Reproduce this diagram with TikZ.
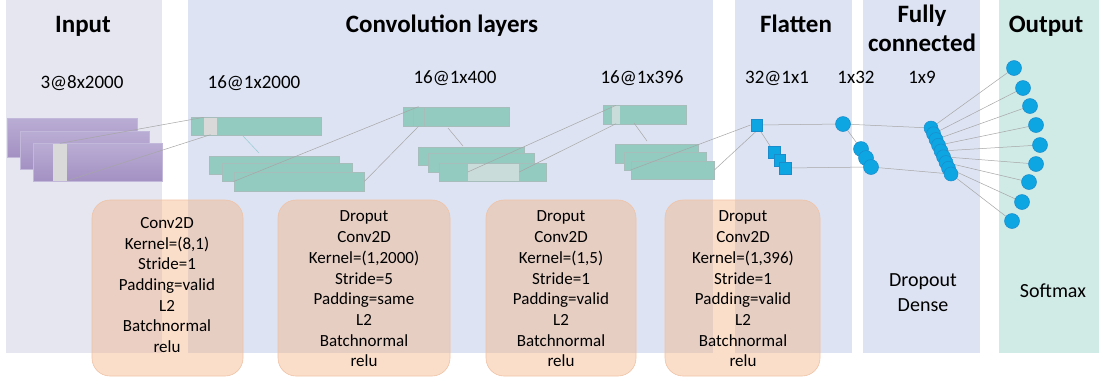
\documentclass[tikz,border=0pt]{standalone}
\usepackage{fontspec}
\setmainfont{Carlito}
\definecolor{inpanel}{HTML}{E5E6F0}
\definecolor{bluepanel}{HTML}{DDE3F2}
\definecolor{outpanel}{HTML}{D0EAE6}
\definecolor{purpletop}{HTML}{BAADD4}
\definecolor{purplebot}{HTML}{A391C3}
\definecolor{purpleedge}{HTML}{C2B8D9}
\definecolor{tealfill}{HTML}{93CBC0}
\definecolor{tealedge}{HTML}{A6BDBC}
\definecolor{patchgrey}{HTML}{D9D9D9}
\definecolor{patchlight}{HTML}{C9DCD9}
\definecolor{linegrey}{HTML}{A6A6A6}
\definecolor{lineteal}{HTML}{9CCFD6}
\definecolor{neuronfill}{HTML}{0EA5E3}
\definecolor{neuronedge}{HTML}{1A8CCB}
\definecolor{boxfill}{HTML}{F4B183}
\definecolor{boxedge}{HTML}{EFC3A6}
\pgfdeclarelayer{bg}
\pgfdeclarelayer{fg}
\pgfdeclarelayer{top}
\pgfsetlayers{bg,main,fg,top}
\begin{document}
\begin{tikzpicture}[x=1pt,y=-1pt,
  prect/.style={rectangle, inner sep=0, top color=purpletop, bottom color=purplebot, draw=purpleedge, line width=0.6pt},
  trect/.style={rectangle, inner sep=0, fill=tealfill, draw=tealedge, line width=0.7pt},
  grect/.style={rectangle, inner sep=0, fill=patchgrey, draw=none},
  lrect/.style={rectangle, inner sep=0, fill=patchlight, draw=tealedge, line width=0.5pt},
  conn/.style={draw=linegrey, line width=0.5pt},
  tconn/.style={draw=lineteal, line width=0.6pt},
  neuron/.style={circle, inner sep=0, minimum size=15pt, fill=neuronfill, draw=neuronedge, line width=0.5pt},
  sqneuron/.style={rectangle, inner sep=0, minimum size=11.5pt, fill=neuronfill, draw=neuronedge, line width=0.5pt},
  title/.style={font=\fontsize{25}{30}\selectfont\bfseries, anchor=base, inner sep=0},
  dimlabel/.style={font=\fontsize{19}{22}\selectfont, anchor=base, inner sep=0},
  opbox/.style={rectangle, rounded corners=18pt, fill=boxfill, fill opacity=0.42, draw=boxedge, line width=0.6pt, inner sep=0},
  optext/.style={font=\fontsize{17}{20.7}\selectfont, align=center, inner sep=0},
  plaintext/.style={font=\fontsize{20}{25}\selectfont, align=center, inner sep=0}]
\useasboundingbox (0,0) rectangle (1099,384);

% ---------- background panels ----------
\begin{pgfonlayer}{bg}
\fill[white] (0,0) rectangle (1099,384);
\fill[inpanel] (6,0) rectangle (162,353);
\fill[bluepanel] (188,0) rectangle (713,353);
\fill[bluepanel] (735,0) rectangle (852,353);
\fill[bluepanel] (863,0) rectangle (980,353);
\fill[outpanel] (999,0) rectangle (1099,353);
\end{pgfonlayer}

% ---------- titles and dimension labels ----------
\node[title] (tin) at (83,32) {Input};
\node[title] (tconv) at (442,32) {Convolution layers};
\node[title] (tflat) at (796,32) {Flatten};
\node[title] (tfc1) at (922,22) {Fully};
\node[title] (tfc2) at (922,51) {connected};
\node[title] (tout) at (1046,32) {Output};

\node[dimlabel] (d1) at (82,88) {3@8x2000};
\node[dimlabel] (d2) at (254,88) {16@1x2000};
\node[dimlabel] (d3) at (455,83) {16@1x400};
\node[dimlabel] (d4) at (642,83) {16@1x396};
\node[dimlabel] (d5) at (777,83) {32@1x1};
\node[dimlabel] (d6) at (856,83) {1x32};
\node[dimlabel] (d7) at (922,83) {1x9};

% ---------- input maps ----------
\node[prect, minimum width=130pt, minimum height=39pt] (in1) at (72,137.5) {};
\node[prect, minimum width=129pt, minimum height=38pt] (in2) at (84.5,150) {};
\node[prect, minimum width=129pt, minimum height=38pt] (in3) at (97.5,162) {};
\node[grect, minimum width=14pt, minimum height=37pt] (in3s) at (60,162) {};

% ---------- conv block 1 ----------
\node[trect, minimum width=130pt, minimum height=18pt] (c1t) at (256,126) {};
\node[grect, minimum width=13pt, minimum height=17pt] (c1p) at (210.5,126) {};
\node[trect, minimum width=130pt, minimum height=18pt] (c1a) at (274,165) {};
\node[trect, minimum width=130pt, minimum height=18pt] (c1b) at (287,172) {};
\node[trect, minimum width=130pt, minimum height=19pt] (c1c) at (299,181.5) {};

% ---------- conv block 2 ----------
\node[trect, minimum width=106pt, minimum height=19pt] (c2t) at (456,116.5) {};
\node[trect, minimum width=11pt, minimum height=19pt] (c2band) at (418.5,116.5) {};
\node[trect, minimum width=106pt, minimum height=18pt] (c2a) at (471,156) {};
\node[trect, minimum width=106pt, minimum height=19pt] (c2b) at (481,162.5) {};
\node[trect, minimum width=107pt, minimum height=18pt] (c2c) at (492.5,172) {};
\node[grect, fill=patchlight, minimum width=51pt, minimum height=17pt] (c2p) at (493.5,172) {};

% ---------- conv block 3 ----------
\node[trect, minimum width=83pt, minimum height=19pt] (c3t) at (644.5,114.5) {};
\node[grect, fill=patchlight, minimum width=8pt, minimum height=18pt] (c3p) at (616,114.5) {};
\node[trect, minimum width=83pt, minimum height=19pt] (c3a) at (656.5,153.5) {};
\node[trect, minimum width=82pt, minimum height=18pt] (c3b) at (665,161) {};
\node[trect, minimum width=83pt, minimum height=18pt] (c3c) at (672.5,170) {};

% ---------- neurons (foreground) ----------
\begin{pgfonlayer}{fg}
\node[sqneuron] (sq1) at (756.5,125) {};
\node[sqneuron] (sq2) at (774,152) {};
\node[sqneuron] (sq3) at (779.5,160) {};
\node[sqneuron] (sq4) at (785,168) {};
\node[neuron] (fc1) at (843,124) {};
\node[neuron] (fc2) at (861,149) {};
\node[neuron] (fc3) at (866,158) {};
\node[neuron] (fc4) at (871,167) {};
\foreach \i in {1,...,9} {
  \node[neuron, minimum size=14pt] (s\i) at ({931+(\i-1)*2.5},{128+(\i-1)*5.75}) {};
}
\node[neuron] (o1) at (1014,68) {};
\node[neuron] (o2) at (1023,88) {};
\node[neuron] (o3) at (1030,106) {};
\node[neuron] (o4) at (1036,125) {};
\node[neuron] (o5) at (1040,145) {};
\node[neuron] (o6) at (1036,164) {};
\node[neuron] (o7) at (1029,182) {};
\node[neuron] (o8) at (1022,202) {};
\node[neuron] (o9) at (1012,221) {};
\end{pgfonlayer}

% ---------- connectors ----------
\coordinate (k1a) at (243,136);
\coordinate (k1b) at (259,153);
\coordinate (k2a) at (448,128);
\coordinate (k2b) at (463,146);
\coordinate (k3a) at (634,123);
\coordinate (k3b) at (647,141);
\draw[conn] (in3s.north) -- (c1p.north west);
\draw[conn] (in3s.south east) -- (c1p.south);
\draw[tconn] (k1a) -- (k1b);
\draw[conn] (c1c.west) -- (c2band.north);
\draw[conn] (c1c.east) -- (c2band.south);
\draw[conn] (k2a) -- (k2b);
\draw[conn] (c2p.west) -- (c3p.north);
\draw[conn] (c2p.east) -- (c3p.south);
\draw[conn] (k3a) -- (k3b);
\draw[conn] (c3c.west) -- (sq1.west);
\draw[conn] (c3c.east) -- (sq1.south);
\draw[conn] (sq1.center) -- (sq2.center);
\draw[conn] (sq1.center) -- (fc1.center);
\draw[conn] (sq4.center) -- (fc4.center);
\draw[conn] (fc1.center) -- (fc2.center);
\draw[conn] (fc1.center) -- (s1.center);
\draw[conn] (fc4.center) -- (s9.center);
\foreach \i in {1,...,9} {
  \draw[conn] (s\i.center) -- (o\i.center);
}

% ---------- operation boxes ----------
\begin{pgfonlayer}{top}
\node[opbox, minimum width=151pt, minimum height=176pt] (b1) at (167.5,288) {};
\node[opbox, minimum width=172pt, minimum height=176pt] (b2) at (364,288) {};
\node[opbox, minimum width=150pt, minimum height=176pt] (b3) at (561,288) {};
\node[opbox, minimum width=155pt, minimum height=176pt] (b4) at (742.5,288) {};
\node[optext] (bt1) at (167,285) {Conv2D\\Kernel=(8,1)\\Stride=1\\Padding=valid\\L2\\Batchnormal\\relu};
\node[optext] (bt2) at (364,289) {Droput\\Conv2D\\Kernel=(1,2000)\\Stride=5\\Padding=same\\L2\\Batchnormal\\relu};
\node[optext] (bt3) at (561,289) {Droput\\Conv2D\\Kernel=(1,5)\\Stride=1\\Padding=valid\\L2\\Batchnormal\\relu};
\node[optext] (bt4) at (743,289) {Droput\\Conv2D\\Kernel=(1,396)\\Stride=1\\Padding=valid\\L2\\Batchnormal\\relu};
\node[plaintext] (fctext) at (923,293) {Dropout\\Dense};
\node[plaintext] (smtext) at (1053,291) {Softmax};
\end{pgfonlayer}
\end{tikzpicture}
\end{document}
